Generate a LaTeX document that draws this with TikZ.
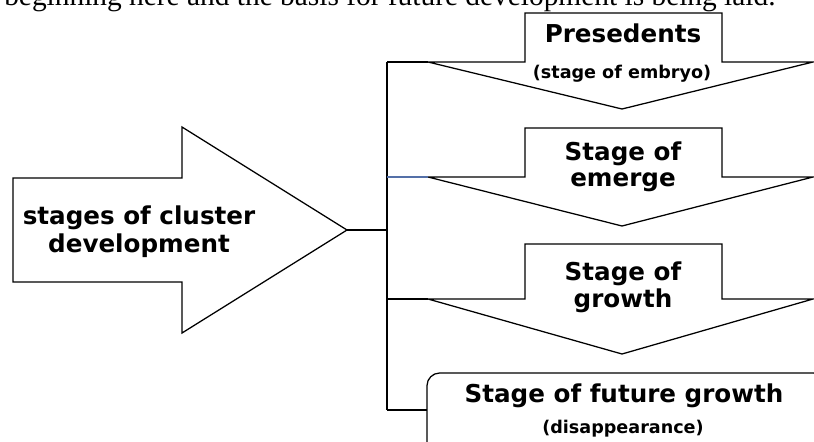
\documentclass[tikz,border=0pt]{standalone}
\usepackage{fontspec}
\setmainfont{DejaVu Sans}
\newfontfamily\serifx{Liberation Serif}
\usepackage{tikz}
\definecolor{linkblue}{RGB}{84,112,168}

\tikzset{
  shape line/.style={line width=0.9pt,black,line join=miter},
  big label/.style={font=\fontsize{17.5}{19}\selectfont\bfseries,anchor=base,inner sep=0pt},
  small label/.style={font=\fontsize{12.5}{14}\selectfont\bfseries,anchor=base,inner sep=0pt}
}

\begin{document}
\begin{tikzpicture}[x=0.025cm,y=-0.025cm]

\useasboundingbox (0,0) rectangle (814,441);
\clip (0,0) rectangle (814,441);
\fill[white] (0,0) rectangle (814,441);

\node[font=\serifx\fontsize{20.9}{24}\selectfont,anchor=base west,inner sep=0pt] (prev) at (4,5.5)
{beginning here and the basis for future development is being laid.};

\draw[shape line] (13,178) -- (182,178) -- (182,127) -- (347,230)
-- (182,333) -- (182,282) -- (13,282) -- cycle;
\node[big label] (main1) at (139,224) {stages of cluster};
\node[big label] (main2) at (139,252) {development};

\draw[shape line] (428,62) -- (525,62) -- (525,13) -- (722,13)
-- (722,62) -- (813,62) -- (622,109) -- cycle;
\node[big label] (presedents) at (623,42) {Presedents};
\node[small label] (embryo) at (622,78) {(stage of embryo)};

\draw[shape line] (428,177) -- (525,177) -- (525,128) -- (722,128)
-- (722,177) -- (813,177) -- (622,226) -- cycle;
\node[big label] (emerge1) at (623,160) {Stage of};
\node[big label] (emerge2) at (623,186) {emerge};

\draw[shape line] (428,299) -- (525,299) -- (525,244) -- (722,244)
-- (722,299) -- (813,299) -- (622,354) -- cycle;
\node[big label] (growth1) at (623,280) {Stage of};
\node[big label] (growth2) at (623,307) {growth};

\draw[shape line,rounded corners=9pt] (427,373) rectangle (826,470);
\node[big label] (future) at (624,402) {Stage of future growth};
\node[small label] (disappear) at (623,433) {(disappearance)};

\coordinate (tip) at (347,230);
\coordinate (j) at (387,230);
\coordinate (b1) at (387,62);
\coordinate (b2) at (387,177);
\coordinate (b3) at (387,299);
\coordinate (b4) at (387,410);
\coordinate (c1) at (428,62);
\coordinate (c2) at (428,177);
\coordinate (c3) at (428,299);
\coordinate (c4) at (427,410);

\draw[shape line] (tip) -- (j);
\draw[shape line] (b1) -- (b4);
\draw[shape line] (b1) -- (c1);
\draw[line width=0.9pt,linkblue] (b2) -- (c2);
\draw[shape line] (b3) -- (c3);
\draw[shape line] (b4) -- (c4);
\end{tikzpicture}
\end{document}
